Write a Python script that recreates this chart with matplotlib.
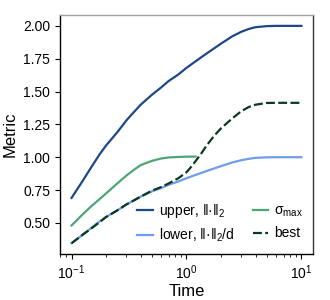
import matplotlib
matplotlib.use("Agg")
import matplotlib.pyplot as plt

plt.rcParams['font.family'] = ['Liberation Sans', 'DejaVu Sans']
plt.rcParams['mathtext.fontset'] = 'custom'
plt.rcParams['mathtext.rm'] = 'Liberation Sans'
plt.rcParams['mathtext.it'] = 'Liberation Sans:italic'
plt.rcParams['mathtext.bf'] = 'Liberation Sans:bold'

t = [0.1, 0.125, 0.15, 0.175, 0.2, 0.25, 0.3, 0.35, 0.4, 0.5, 0.6, 0.7, 0.85,
     1.0, 1.2, 1.5, 1.75, 2.0, 2.5, 3.0, 3.5, 4.0, 5.0, 6.0, 7.0, 8.5, 10.0]
upper = [0.69, 0.82, 0.93, 1.02, 1.09, 1.19, 1.28, 1.345, 1.40, 1.475, 1.53, 1.58, 1.63,
         1.68, 1.73, 1.79, 1.83, 1.865, 1.92, 1.955, 1.977, 1.99, 1.998, 2.0, 2.0, 2.0, 2.0]
lower = [0.345, 0.41, 0.465, 0.51, 0.545, 0.595, 0.64, 0.672, 0.70, 0.74, 0.765, 0.79, 0.815,
         0.84, 0.865, 0.895, 0.915, 0.932, 0.96, 0.977, 0.988, 0.995, 0.999, 1.0, 1.0, 1.0, 1.0]
t_sig = [0.1, 0.125, 0.15, 0.175, 0.2, 0.25, 0.3, 0.35, 0.4, 0.5, 0.6, 0.7, 0.85, 1.0, 1.2]
sigma = [0.48, 0.565, 0.63, 0.68, 0.725, 0.80, 0.86, 0.905, 0.94, 0.972, 0.99, 0.998, 1.002, 1.004, 1.005]
t_best = [0.1, 0.125, 0.15, 0.175, 0.2, 0.25, 0.3, 0.35, 0.4, 0.5, 0.6, 0.7, 0.85, 1.0, 1.1,
          1.2, 1.35, 1.5, 1.75, 2.0, 2.5, 3.0, 3.5, 4.0, 5.0, 6.0, 7.0, 8.5, 10.0]
best = [0.345, 0.41, 0.46, 0.505, 0.545, 0.595, 0.64, 0.672, 0.70, 0.745, 0.772, 0.80, 0.84, 0.885, 0.927,
        0.97, 1.03, 1.09, 1.165, 1.22, 1.295, 1.35, 1.383, 1.40, 1.413, 1.414, 1.414, 1.414, 1.414]

fig = plt.figure(figsize=(3.3, 3.0), dpi=100)
ax = fig.add_axes([0.182, 0.153, 0.766, 0.797])

lw = 1.6
ax.plot(t, upper, color='#1f4687', lw=lw, label='upper, ‖·‖$_2$')
ax.plot(t, lower, color='#6f9ceb', lw=lw, label='lower, ‖·‖$_2$/d')
ax.plot(t_sig, sigma, color='#4ea676', lw=lw, label='σ$_{\\mathrm{max}}$')
ax.plot(t_best, best, color='#0a3a1e', lw=lw, ls=(0, (4, 1.5)), label='best')

ax.set_xscale('log')
ax.set_yticks([0.5, 0.75, 1.0, 1.25, 1.5, 1.75, 2.0])
ax.set_yticklabels(['0.50', '0.75', '1.00', '1.25', '1.50', '1.75', '2.00'])
ax.tick_params(axis='both', which='major', labelsize=10, direction='out', length=3.5, width=0.8)
ax.tick_params(axis='x', which='minor', direction='out', length=2, width=0.6)
ax.set_xlabel('Time', fontsize=12, labelpad=1)
ax.set_ylabel('Metric', fontsize=12, labelpad=4)

ax.spines['top'].set_color('#a0a0a0')
ax.spines['right'].set_color('#333333')
for s in ax.spines.values():
    s.set_linewidth(1.0)

ax.legend(loc='lower right', ncol=2, frameon=False, fontsize=10,
          handlelength=1.1, handletextpad=0.45, columnspacing=1.3,
          borderaxespad=0.3, labelspacing=0.5)

fig.savefig('out.png', dpi=100)
